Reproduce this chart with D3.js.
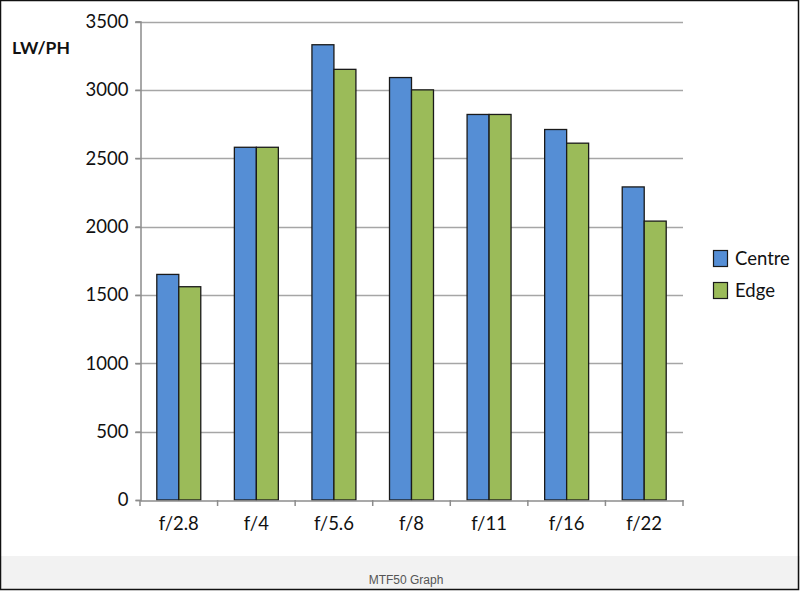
<!DOCTYPE html>
<html><head><meta charset="utf-8">
<script src="https://cdn.jsdelivr.net/npm/d3@7"></script>
<style>
html,body{margin:0;padding:0;background:#fff;}
svg{display:block;}
</style></head>
<body>
<svg id="chart" width="800" height="591"></svg>
<script>
const categories = ["f/2.8","f/4","f/5.6","f/8","f/11","f/16","f/22"];
const seriesNames = ["Centre","Edge"];
const centre = [1650,2580,3330,3090,2820,2710,2290];
const edge   = [1560,2580,3150,3000,2820,2610,2040];
const yTicks = [0,500,1000,1500,2000,2500,3000,3500];
const colors = ["#558ed5","#9bbb59"];
const caption = "MTF50 Graph";
const yLabel = "LW/PH";

const svg = d3.select("#chart");
const W = 800, H = 591;
const font = "Lato, 'Open Sans', sans-serif";

// background + caption band + frame
svg.append("rect").attr("x",0).attr("y",0).attr("width",W).attr("height",H).attr("fill","#fff");
svg.append("rect").attr("x",0).attr("y",556).attr("width",W).attr("height",34).attr("fill","#f2f2f2");
svg.append("rect").attr("x",0.5).attr("y",0.5).attr("width",W-2).attr("height",H-2)
  .attr("fill","none").attr("stroke","#111").attr("stroke-width",1.5);

const x0 = d3.scaleBand().domain(categories).range([140,683]).paddingInner(0).paddingOuter(0);
const x1 = d3.scaleBand().domain(seriesNames).range([0, x0.bandwidth()]).paddingInner(0).paddingOuter(0.764);
const y = d3.scaleLinear().domain([0,3500]).range([500,21.5]);

// gridlines
svg.append("g").selectAll("line").data(yTicks.slice(1)).join("line")
  .attr("x1",135).attr("x2",683)
  .attr("y1",d=>Math.round(y(d))+0.5).attr("y2",d=>Math.round(y(d))+0.5)
  .attr("stroke","#a6a6a6").attr("stroke-width",1.5);

// y axis
const yAxis = svg.append("g").attr("transform","translate(140.5,0)")
  .call(d3.axisLeft(y).tickValues(yTicks).tickSize(5).tickPadding(7).tickFormat(d3.format("d")));
yAxis.select(".domain").attr("stroke","#8c8c8c").attr("stroke-width",1.5);
yAxis.selectAll(".tick line").attr("stroke","#8c8c8c").attr("stroke-width",1.5);
yAxis.selectAll(".tick text").attr("font-family",font).attr("font-size",18.5).attr("fill","#111");

// bars
const data = categories.map((c,i)=>({cat:c, vals:[centre[i],edge[i]]}));
const g = svg.append("g");
data.forEach(d=>{
  seriesNames.forEach((s,j)=>{
    g.append("rect")
      .attr("x", x0(d.cat)+x1(s))
      .attr("y", y(d.vals[j]))
      .attr("width", x1.bandwidth())
      .attr("height", y(0)-y(d.vals[j]))
      .attr("fill", colors[j])
      .attr("stroke","#1a1a1a").attr("stroke-width",1.3);
  });
});

// x axis
const xAxis = svg.append("g").attr("transform","translate(0,500.5)")
  .call(d3.axisBottom(x0).tickSize(0).tickPadding(16));
xAxis.select(".domain").attr("stroke","#8c8c8c").attr("stroke-width",1.5);
xAxis.selectAll(".tick text").attr("font-family",font).attr("font-size",18.5).attr("fill","#111");
// x boundary tick marks
const bounds = categories.map(c=>x0(c)).concat([x0.range()[1]]);
svg.append("g").selectAll("line").data(bounds).join("line")
  .attr("x1",d=>d).attr("x2",d=>d).attr("y1",500).attr("y2",506)
  .attr("stroke","#8c8c8c").attr("stroke-width",1.5);

// y label
svg.append("text").attr("x",12).attr("y",54).text(yLabel)
  .attr("font-family",font).attr("font-weight","bold").attr("font-size",17.5).attr("fill","#111");

// legend
const leg = svg.append("g");
seriesNames.forEach((s,j)=>{
  leg.append("rect").attr("x",713.5).attr("y",250.5+j*32).attr("width",14).attr("height",16)
    .attr("fill",colors[j]).attr("stroke","#1a1a1a").attr("stroke-width",1.2);
  leg.append("text").attr("x",735).attr("y",265+j*32).text(s)
    .attr("font-family",font).attr("font-size",18.5).attr("fill","#111");
});

// caption
svg.append("text").attr("x",406).attr("y",584).attr("text-anchor","middle").text(caption)
  .attr("font-family","Liberation Sans, Arial, sans-serif").attr("font-size",12).attr("fill","#555");
</script>
</body></html>
